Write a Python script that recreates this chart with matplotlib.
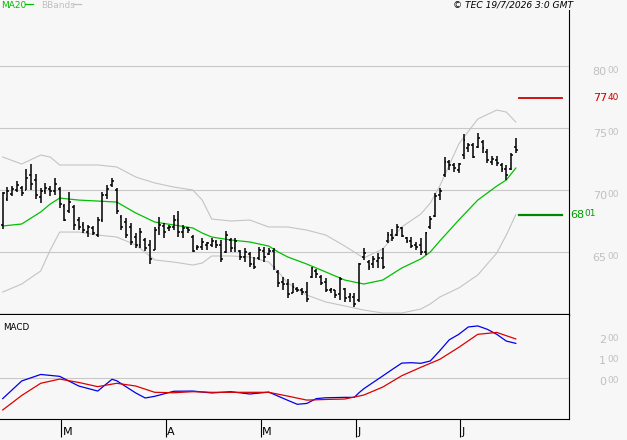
import numpy as np
import pandas as pd
import matplotlib
matplotlib.use("Agg")
import matplotlib.pyplot as plt

# ---------------- data ----------------
holidays = pd.to_datetime(["2026-04-03", "2026-04-06", "2026-05-01"])
dates = pd.bdate_range("2026-02-12", "2026-07-17")
dates = dates[~dates.isin(holidays)]

opens = [6718, 6930, 6965, 7000, 7020, 7000, 7120, 7080, 6940, 6990,
         7010, 6990, 7010, 6870, 6830, 6860, 6760, 6720, 6660, 6690,
         6640, 6760, 6960, 7040, 7000, 6780, 6740, 6700, 6620, 6560,
         6600, 6560, 6520, 6690, 6710, 6690, 6700, 6760, 6660, 6690,
         6620, 6530, 6540, 6560, 6560, 6580, 6560, 6500, 6600, 6530,
         6510, 6460, 6480, 6400, 6450, 6510, 6480, 6510, 6340, 6260,
         6240, 6170, 6200, 6190, 6180, 6300, 6350, 6300, 6260, 6190,
         6190, 6160, 6200, 6140, 6140, 6110, 6460, 6420, 6400, 6430,
         6450, 6590, 6640, 6640, 6690, 6610, 6590, 6560, 6560, 6500,
         6700, 6790, 6960, 7120, 7230, 7200, 7160, 7280, 7340, 7360,
         7350, 7390, 7310, 7230, 7240, 7200, 7170, 7170, 7350]
highs = [6986, 7024, 7032, 7073, 7032, 7169, 7210, 7129, 7016, 7057,
         7032, 7097, 7024, 6887, 6984, 6879, 6782, 6742, 6718, 6710,
         6782, 6984, 7040, 7097, 7016, 6798, 6774, 6734, 6653, 6694,
         6613, 6597, 6702, 6782, 6734, 6718, 6798, 6831, 6718, 6702,
         6637, 6557, 6613, 6581, 6613, 6597, 6597, 6669, 6613, 6613,
         6516, 6532, 6500, 6460, 6540, 6540, 6532, 6532, 6355, 6299,
         6282, 6250, 6218, 6210, 6258, 6379, 6363, 6315, 6290, 6210,
         6194, 6299, 6210, 6169, 6169, 6411, 6532, 6436, 6468, 6492,
         6532, 6661, 6686, 6726, 6702, 6621, 6621, 6581, 6613, 6661,
         6790, 6976, 7016, 7266, 7242, 7218, 7218, 7452, 7379, 7379,
         7460, 7403, 7331, 7274, 7274, 7218, 7202, 7298, 7419]
lows = [6686, 6911, 6952, 6984, 6952, 7000, 7000, 6928, 6895, 6968,
        6952, 6960, 6855, 6750, 6815, 6677, 6677, 6653, 6621, 6637,
        6621, 6742, 6928, 7024, 6806, 6677, 6613, 6557, 6532, 6532,
        6508, 6403, 6516, 6637, 6613, 6669, 6677, 6621, 6613, 6653,
        6500, 6516, 6516, 6516, 6540, 6532, 6419, 6492, 6500, 6500,
        6436, 6419, 6379, 6363, 6436, 6419, 6476, 6355, 6218, 6194,
        6129, 6169, 6177, 6153, 6097, 6290, 6290, 6234, 6177, 6169,
        6129, 6113, 6097, 6097, 6057, 6097, 6436, 6355, 6371, 6371,
        6363, 6573, 6589, 6629, 6621, 6573, 6532, 6516, 6476, 6476,
        6686, 6782, 6919, 7105, 7161, 7145, 7137, 7250, 7307, 7258,
        7339, 7298, 7218, 7202, 7194, 7145, 7081, 7161, 7298]
closes = [6975, 6990, 7010, 7040, 6975, 7100, 7050, 6960, 6990, 7020,
          6990, 7050, 6890, 6760, 6900, 6720, 6700, 6680, 6700, 6650,
          6760, 6960, 7010, 7070, 6830, 6700, 6640, 6580, 6560, 6660,
          6530, 6440, 6680, 6720, 6660, 6700, 6760, 6660, 6690, 6680,
          6510, 6540, 6580, 6570, 6590, 6560, 6440, 6640, 6530, 6590,
          6460, 6500, 6400, 6380, 6520, 6460, 6510, 6380, 6250, 6240,
          6160, 6220, 6190, 6180, 6120, 6370, 6320, 6250, 6190, 6200,
          6150, 6280, 6130, 6150, 6080, 6400, 6490, 6380, 6440, 6450,
          6380, 6640, 6610, 6700, 6630, 6590, 6550, 6540, 6500, 6650,
          6770, 6950, 6990, 7230, 7200, 7180, 7210, 7400, 7360, 7270,
          7420, 7340, 7240, 7250, 7220, 7170, 7120, 7280, 7320]

band_idx = [0, 4, 8, 10, 12, 16, 20, 24, 28, 32, 36, 40, 42, 44, 48, 52, 56,
            58, 60, 64, 68, 72, 76, 80, 84, 88, 90, 92, 96, 100, 104, 106, 108]
ma20 = [6710, 6726, 6823, 6887, 6935, 6919, 6911, 6903, 6815, 6742, 6718,
        6694, 6653, 6621, 6597, 6581, 6548, 6500, 6460, 6403, 6339, 6274,
        6242, 6274, 6371, 6444, 6500, 6589, 6758, 6919, 7032, 7081, 7177]
bb_upper = [7266, 7210, 7282, 7266, 7202, 7202, 7202, 7186, 7105, 7057, 7024,
            7000, 6919, 6766, 6750, 6758, 6702, 6702, 6702, 6677, 6637, 6548,
            6452, 6524, 6702, 6806, 6895, 7032, 7371, 7573, 7645, 7629, 7548]
bb_lower = [6177, 6242, 6347, 6516, 6661, 6661, 6637, 6621, 6557, 6436, 6419,
            6395, 6411, 6468, 6468, 6460, 6419, 6339, 6250, 6153, 6097, 6065,
            6032, 6008, 6008, 6040, 6081, 6137, 6210, 6315, 6492, 6637, 6801]

macd_idx = [0, 4, 8, 12, 16, 20, 23, 24, 28, 30, 32, 36, 40, 44, 48, 52, 56,
            60, 62, 64, 66, 68, 72, 74, 75, 76, 80, 82, 84, 86, 88, 90, 92, 94,
            96, 98, 100, 102, 104, 106, 108]
macd_line = [-98, -14, 17, 8, -38, -62, -6, -13, -71, -95, -87, -63, -62, -71,
             -65, -76, -67, -106, -125, -121, -98, -94, -92, -92, -70, -51, 10,
             41, 71, 73, 70, 81, 130, 182, 208, 243, 248, 232, 208, 176, 165]
signal_idx = [0, 4, 8, 12, 16, 20, 24, 28, 32, 36, 40, 44, 48, 52, 56, 60, 64,
              68, 72, 76, 80, 84, 88, 92, 96, 100, 104, 108]
signal_line = [-152, -83, -25, -5, -21, -41, -25, -38, -68, -70, -65, -68, -68,
               -68, -68, -86, -105, -102, -100, -81, -43, 11, 51, 89, 146, 208,
               217, 186]

price_ticks = [6500, 7000, 7500, 8000]
macd_ticks = [0, 100, 200]
resistance = 7740
support = 6801
legend_labels = ["MA20", "BBands"]
stamp = "\u00a9 TEC 19/7/2026 3:0 GMT"

# ---------------- styling ----------------
BG = "#f7f7f7"
GRID = "#c8c8c8"
BAND = "#c4c4c4"
LBL = "#c0c0c0"
MA_C = "#00c000"
plt.rcParams["font.family"] = ["DejaVu Sans"]

W, H = 627, 440
fig = plt.figure(figsize=(W / 100, H / 100), dpi=100, facecolor=BG)


def rect(x0, y0, x1, y1):
    return [x0 / W, 1 - y1 / H, (x1 - x0) / W, (y1 - y0) / H]


ax = fig.add_axes(rect(0, 10, 569, 315), facecolor=BG)
axm = fig.add_axes(rect(0, 315, 569, 419), facecolor=BG, sharex=ax)

x = np.arange(len(dates))
ax.set_xlim(-0.57, 119.2)
ax.set_ylim(5992, 8452)
axm.set_ylim(-195, 300)

for v in price_ticks:
    ax.axhline(v, color=GRID, lw=0.8, zorder=1)
axm.axhline(0, color=GRID, lw=0.8, zorder=1)

# bands & MA
ax.plot(band_idx, bb_upper, color=BAND, lw=0.8, zorder=2)
ax.plot(band_idx, bb_lower, color=BAND, lw=0.8, zorder=2)
ax.plot(band_idx, ma20, color=MA_C, lw=0.9, zorder=3)

# OHLC bars
ax.vlines(x, lows, highs, color="black", lw=1.1, zorder=4)
ax.hlines(opens, x - 0.4, x, color="black", lw=1.1, zorder=4)
ax.hlines(closes, x, x + 0.4, color="black", lw=1.1, zorder=4)

# level markers
ax.plot([0.912, 0.988], [resistance, resistance], color="#cc0000", lw=1.3,
        transform=ax.get_yaxis_transform(), clip_on=False)
ax.plot([0.912, 0.988], [support, support], color="#008800", lw=1.6,
        transform=ax.get_yaxis_transform(), clip_on=False)

# MACD
axm.plot(macd_idx, macd_line, color="#0000ee", lw=0.9)
axm.plot(signal_idx, signal_line, color="#dd0000", lw=0.9)
axm.text(0.005, 0.88, "MACD", transform=axm.transAxes, fontsize=6.3,
         va="center", ha="left", color="black")

# spines
for s in ["top", "left"]:
    ax.spines[s].set_visible(False)
    axm.spines[s].set_visible(False)
ax.spines["bottom"].set_linewidth(1.6)
ax.spines["right"].set_linewidth(0.8)
axm.spines["bottom"].set_linewidth(0.8)
axm.spines["right"].set_linewidth(0.8)
ax.tick_params(left=False, bottom=False, labelleft=False, labelbottom=False)
axm.tick_params(left=False, labelleft=False, labelbottom=False)

# month ticks
month_pos = []
month_lab = []
prev = None
for i, d in enumerate(dates):
    if prev is not None and d.month != prev:
        month_pos.append(i + 0.3)
        month_lab.append(d.strftime("%B")[0])
    prev = d.month
axm.set_xticks(month_pos)
axm.tick_params(axis="x", direction="out", length=13, width=0.8, color="black")
for p, l in zip(month_pos, month_lab):
    axm.annotate(l, xy=(p, 0), xycoords=("data", "axes fraction"),
                 xytext=(1.2, -9.5), textcoords="offset points",
                 ha="left", va="center", fontsize=8, color="black")


def split_label(a, value, text, color, dx_big, dx_small, dy, nbig,
                big=8, small=6.5):
    a.annotate(text[:nbig], xy=(1, value), xycoords=("axes fraction", "data"),
               xytext=(dx_big, dy), textcoords="offset points",
               ha="left", va="center", fontsize=big, color=color,
               annotation_clip=False)
    a.annotate(text[nbig:], xy=(1, value), xycoords=("axes fraction", "data"),
               xytext=(dx_small, dy + 0.9), textcoords="offset points",
               ha="left", va="center", fontsize=small, color=color,
               annotation_clip=False)


for v in price_ticks:
    split_label(ax, v, str(v), LBL, 17.0, 27.6, -4.1, 2)
split_label(ax, resistance, str(resistance), "#cc0000", 17.5, 28.1, 0, 2)
split_label(ax, support, str(support), "#009900", 0.6, 11.2, 0, 2)
for v in macd_ticks:
    split_label(axm, v, f"{v:03d}", LBL, 21.8, 27.4, -3.0, 1)

# header
fig.text(1 / W, 1 - 5 / H, legend_labels[0], color=MA_C, fontsize=6.5,
         ha="left", va="center")
fig.add_artist(plt.Line2D([25 / W, 33 / W], [1 - 4.5 / H, 1 - 4.5 / H],
                          color=MA_C, lw=0.9))
fig.text(41 / W, 1 - 5 / H, legend_labels[1], color=LBL, fontsize=6.5,
         ha="left", va="center")
fig.add_artist(plt.Line2D([73 / W, 81 / W], [1 - 4.5 / H, 1 - 4.5 / H],
                          color=LBL, lw=0.9))
fig.text(573 / W, 1 - 5 / H, stamp, color="black", fontsize=6.6,
         style="italic", ha="right", va="center")

fig.savefig("out.png", dpi=100, facecolor=BG)
